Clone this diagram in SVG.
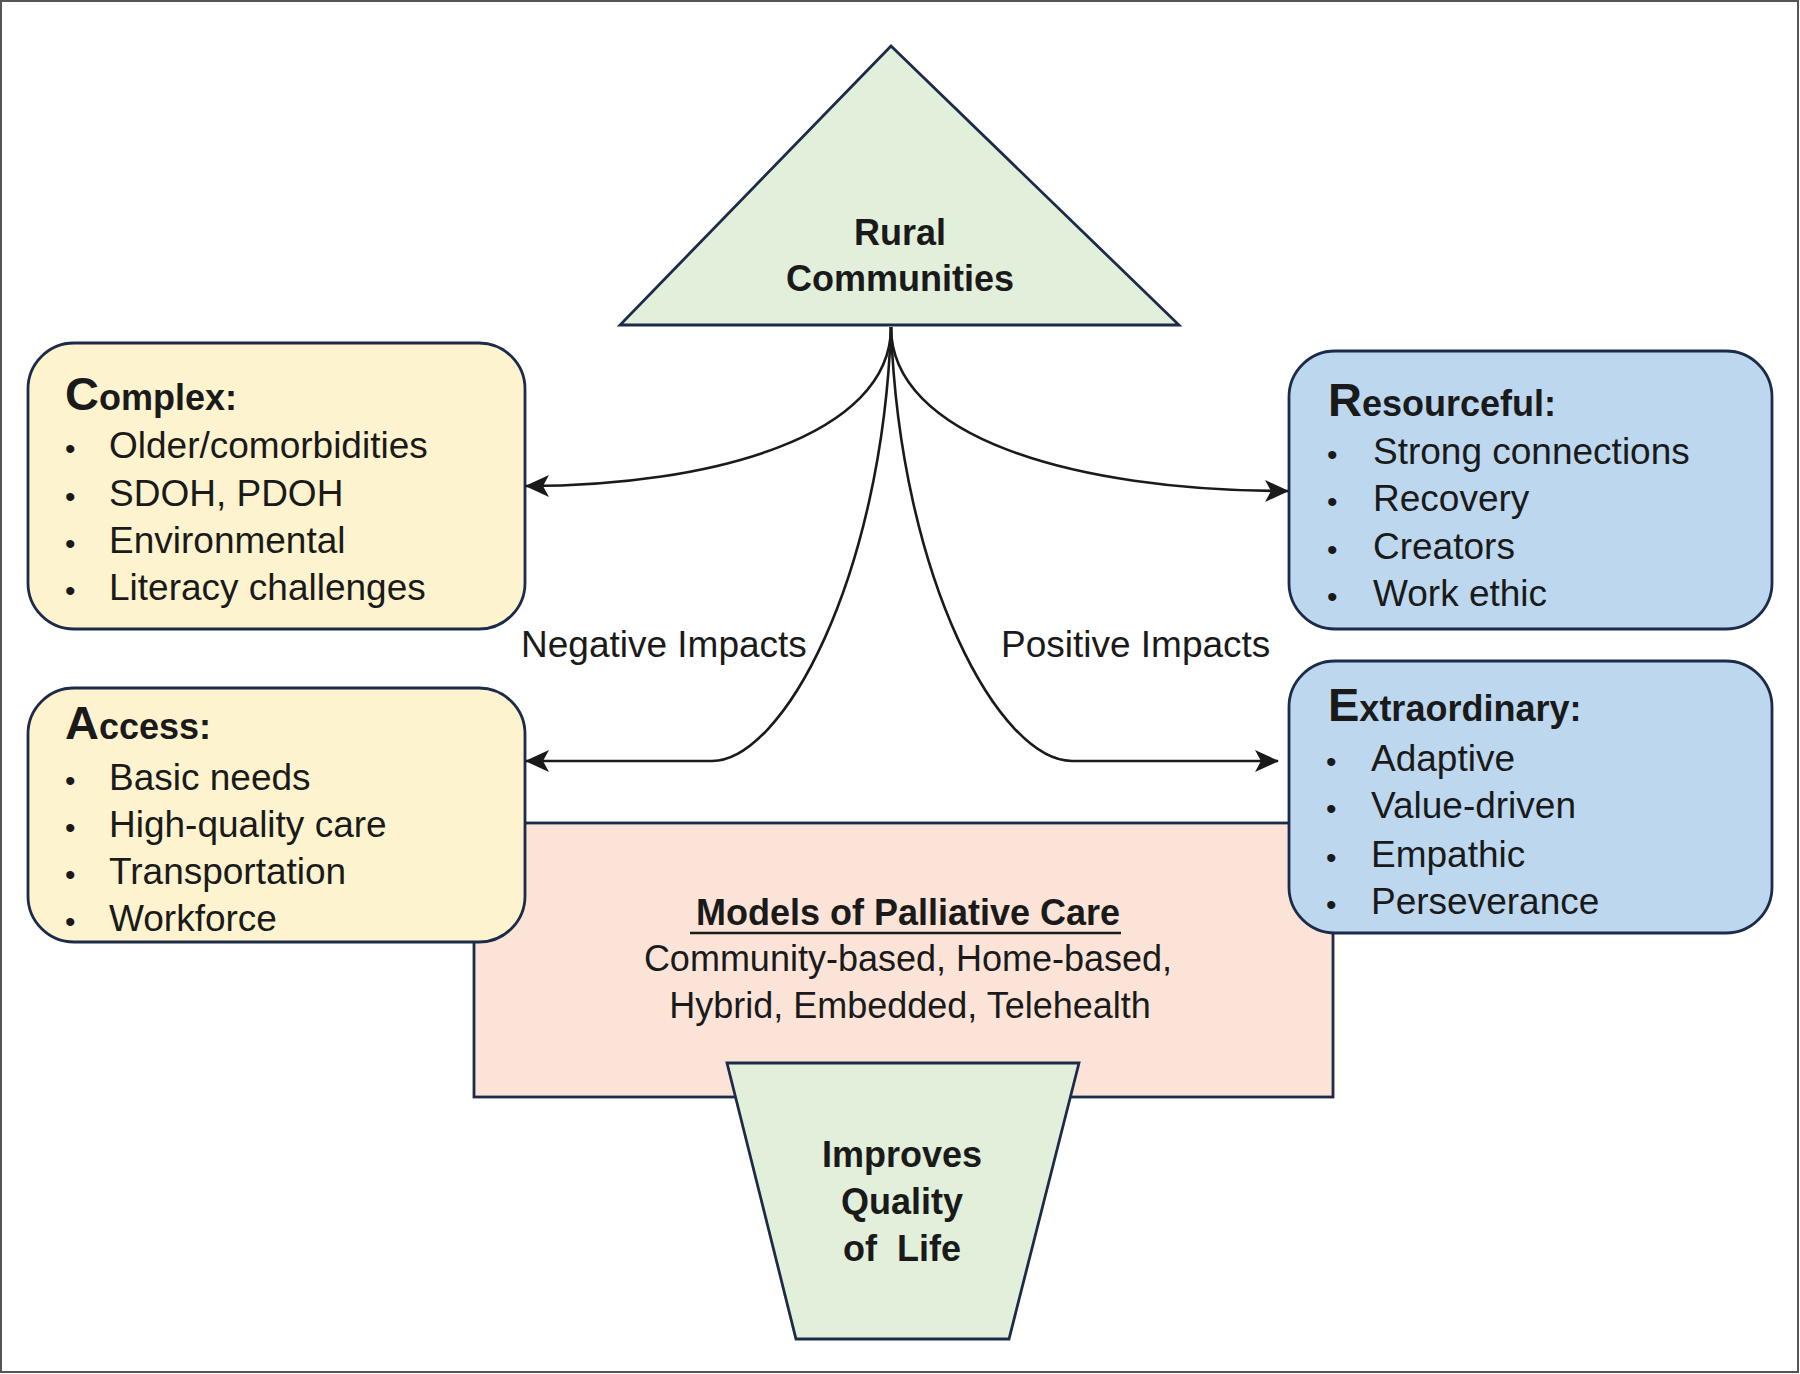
<svg xmlns="http://www.w3.org/2000/svg" width="1800" height="1374" viewBox="0 0 1800 1374">
<style>
.box{stroke:#1c2b4a;stroke-width:2.8}
.yel{fill:#fef3cf}
.blu{fill:#bdd7ee}
.grn{fill:#e2efda}
.pch{fill:#fbe4d7}
text{font-family:"Liberation Sans",Arial,sans-serif;fill:#1a1a1a}
.t{font-weight:bold;font-size:36px}
.cap{font-size:47px}
.it{font-size:37px}
.bu{font-size:30px}
.lbl{font-size:37px}
.hd{font-weight:bold;font-size:36px;text-anchor:middle}
.bd{font-size:36px;text-anchor:middle}
.con{fill:none;stroke:#1a1a1a;stroke-width:2.6}
</style>
<defs>
<marker id="ah" viewBox="0 0 24 24" refX="23" refY="12" markerWidth="24" markerHeight="24" markerUnits="userSpaceOnUse" orient="auto">
<path d="M0,1 L24,12 L0,23 L6,12 Z" fill="#1a1a1a"/>
</marker>
</defs>
<rect x="1" y="1" width="1797" height="1371" fill="#ffffff" stroke="#555" stroke-width="2"/>

<g id="models">
<rect class="box pch" x="474" y="823" width="859" height="274"/>
<text class="hd" x="908" y="925">Models of Palliative Care</text>
<line x1="690" y1="933" x2="1121" y2="933" stroke="#1a1a1a" stroke-width="2.4"/>
<text class="bd" x="908" y="971">Community-based, Home-based,</text>
<text class="bd" x="910" y="1018">Hybrid, Embedded, Telehealth</text>
</g>

<g id="quality">
<polygon class="box grn" points="727,1063 1079,1063 1009,1339 796,1339"/>
<text class="hd" x="902" y="1167">Improves</text>
<text class="hd" x="902" y="1214">Quality</text>
<text class="hd" x="902" y="1261" xml:space="preserve">of  Life</text>
</g>

<g id="rural">
<polygon class="box grn" points="891,46 1179,325 620,325"/>
<text class="hd" x="900" y="245">Rural</text>
<text class="hd" x="900" y="291">Communities</text>
</g>

<g id="complex">
<rect class="box yel" x="28" y="343" width="497" height="286" rx="46"/>
<text class="t" x="65" y="410"><tspan class="cap">C</tspan>omplex:</text>
<text class="bu" x="65" y="459">•</text><text class="it" x="109" y="458">Older/comorbidities</text>
<text class="bu" x="65" y="507">•</text><text class="it" x="109" y="506">SDOH, PDOH</text>
<text class="bu" x="65" y="554">•</text><text class="it" x="109" y="553">Environmental</text>
<text class="bu" x="65" y="601">•</text><text class="it" x="109" y="600">Literacy challenges</text>
</g>

<g id="access">
<rect class="box yel" x="28" y="688" width="497" height="254" rx="46"/>
<text class="t" x="65" y="739"><tspan class="cap">A</tspan>ccess:</text>
<text class="bu" x="65" y="791">•</text><text class="it" x="109" y="790">Basic needs</text>
<text class="bu" x="65" y="838">•</text><text class="it" x="109" y="837">High-quality care</text>
<text class="bu" x="65" y="885">•</text><text class="it" x="109" y="884">Transportation</text>
<text class="bu" x="65" y="932">•</text><text class="it" x="109" y="931">Workforce</text>
</g>

<g id="resourceful">
<rect class="box blu" x="1289" y="351" width="483" height="278" rx="46"/>
<text class="t" x="1328" y="416"><tspan class="cap">R</tspan>esourceful:</text>
<text class="bu" x="1327" y="465">•</text><text class="it" x="1373" y="464">Strong connections</text>
<text class="bu" x="1327" y="512">•</text><text class="it" x="1373" y="511">Recovery</text>
<text class="bu" x="1327" y="560">•</text><text class="it" x="1373" y="559">Creators</text>
<text class="bu" x="1327" y="607">•</text><text class="it" x="1373" y="606">Work ethic</text>
</g>

<g id="extraordinary">
<rect class="box blu" x="1289" y="661" width="483" height="272" rx="46"/>
<text class="t" x="1328" y="721"><tspan class="cap">E</tspan>xtraordinary:</text>
<text class="bu" x="1326" y="772">•</text><text class="it" x="1371" y="771">Adaptive</text>
<text class="bu" x="1326" y="819">•</text><text class="it" x="1371" y="818">Value-driven</text>
<text class="bu" x="1326" y="868">•</text><text class="it" x="1371" y="867">Empathic</text>
<text class="bu" x="1326" y="915">•</text><text class="it" x="1371" y="914">Perseverance</text>
</g>

<g id="connectors">
<path class="con" d="M891,327 C891,436 712,486 526,486" marker-end="url(#ah)"/>
<path class="con" d="M891,327 C891,436 1070,491 1288,491" marker-end="url(#ah)"/>
<path class="con" d="M891,327 C882,580 782,761 712,761 L526,761" marker-end="url(#ah)"/>
<path class="con" d="M891,327 C900,580 1000,761 1072,761 L1278,761" marker-end="url(#ah)"/>
</g>

<text class="lbl" x="521" y="657">Negative Impacts</text>
<text class="lbl" x="1001" y="657">Positive Impacts</text>
</svg>
